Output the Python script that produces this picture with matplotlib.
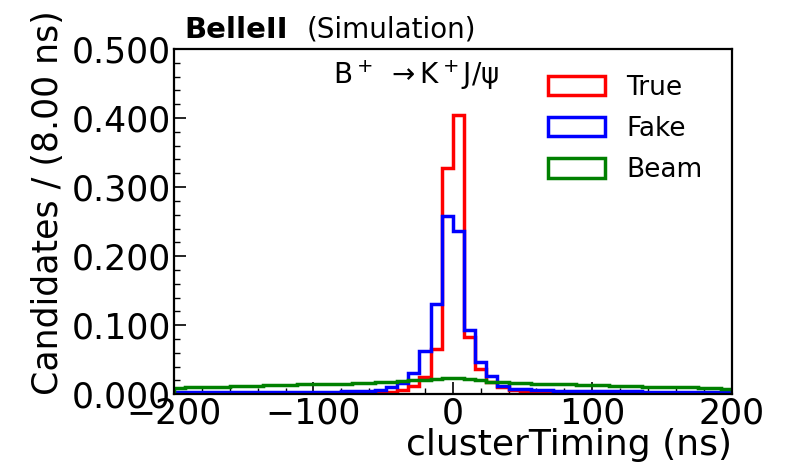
import numpy as np
import matplotlib.pyplot as plt
from matplotlib.ticker import MultipleLocator, FormatStrFormatter

# binning: 50 bins of 8 ns between -200 and 200
edges = np.arange(-200, 201, 8)
centers = 0.5 * (edges[:-1] + edges[1:])

# fraction of candidates per bin
true_vals = [0.0003, 0.0003, 0.0003, 0.0003, 0.0003, 0.0003, 0.0003, 0.0003, 0.0004, 0.0004,
             0.0004, 0.0005, 0.0005, 0.0006, 0.0007, 0.0008, 0.001, 0.0012, 0.0018, 0.003,
             0.006, 0.012, 0.025, 0.065, 0.328, 0.405, 0.083, 0.037, 0.018, 0.010,
             0.006, 0.004, 0.003, 0.003, 0.002, 0.0015, 0.0012, 0.001, 0.0009, 0.0008,
             0.0007, 0.0006, 0.0006, 0.0005, 0.0005, 0.0004, 0.0004, 0.0004, 0.0003, 0.0003]
fake_vals = [0.003, 0.003, 0.003, 0.003, 0.003, 0.003, 0.003, 0.003, 0.003, 0.003,
             0.003, 0.003, 0.003, 0.0035, 0.0035, 0.004, 0.004, 0.005, 0.006, 0.010,
             0.016, 0.030, 0.063, 0.130, 0.258, 0.236, 0.093, 0.047, 0.026, 0.012,
             0.008, 0.007, 0.006, 0.006, 0.005, 0.005, 0.0045, 0.0045, 0.004, 0.004,
             0.004, 0.004, 0.0035, 0.0035, 0.0035, 0.0035, 0.003, 0.003, 0.003, 0.003]
beam_vals = [0.009, 0.010, 0.010, 0.011, 0.011, 0.012, 0.012, 0.012, 0.013, 0.013,
             0.013, 0.014, 0.014, 0.014, 0.015, 0.015, 0.016, 0.016, 0.017, 0.018,
             0.019, 0.020, 0.021, 0.022, 0.023, 0.023, 0.022, 0.020, 0.018, 0.017,
             0.016, 0.016, 0.015, 0.015, 0.014, 0.014, 0.013, 0.013, 0.013, 0.012,
             0.012, 0.012, 0.011, 0.011, 0.011, 0.010, 0.010, 0.009, 0.009, 0.008]

labels = ['True', 'Fake', 'Beam']
colors = ['red', 'blue', 'green']

fig = plt.figure(figsize=(7.91, 4.72), dpi=100)
ax = fig.add_axes([0.22, 0.165, 0.705, 0.731])

for vals, lab, col in zip([true_vals, fake_vals, beam_vals], labels, colors):
    ax.hist(centers, bins=edges, weights=vals, histtype='step', color=col, lw=2.5, label=lab)

ax.set_xlim(-200, 200)
ax.set_ylim(0, 0.5)
ax.yaxis.set_major_locator(MultipleLocator(0.1))
ax.yaxis.set_minor_locator(MultipleLocator(0.02))
ax.yaxis.set_major_formatter(FormatStrFormatter('%.3f'))
ax.xaxis.set_major_locator(MultipleLocator(100))
ax.xaxis.set_minor_locator(MultipleLocator(20))
ax.tick_params(which='both', direction='in', labelsize=25, top=False, right=False, pad=2)
ax.tick_params(which='major', length=8.5, width=1.2)
ax.tick_params(which='minor', length=4, width=1)
for s in ax.spines.values():
    s.set_linewidth(1.6)

ax.set_xlabel('clusterTiming (ns)', fontsize=26, loc='right', labelpad=-2)
ax.set_ylabel('Candidates / (8.00 ns)', fontsize=25, loc='top')
ax.yaxis.set_label_coords(-0.195, 1.113)

ax.text(0.018, 1.015, 'BelleII', transform=ax.transAxes, fontsize=21, fontweight='heavy', va='bottom')
ax.text(0.238, 1.015, '(Simulation)', transform=ax.transAxes, fontsize=20, va='bottom')
ax.text(0.285, 0.975, 'B$^+$ $\\rightarrow$K$^+$J/ψ', transform=ax.transAxes, fontsize=20, va='top')

ax.legend(loc='upper right', bbox_to_anchor=(0.99, 0.995), frameon=False, fontsize=19,
          handlelength=2.15, handleheight=0.75, handletextpad=0.8, labelspacing=0.58)

fig.savefig('out.png', dpi=100)
